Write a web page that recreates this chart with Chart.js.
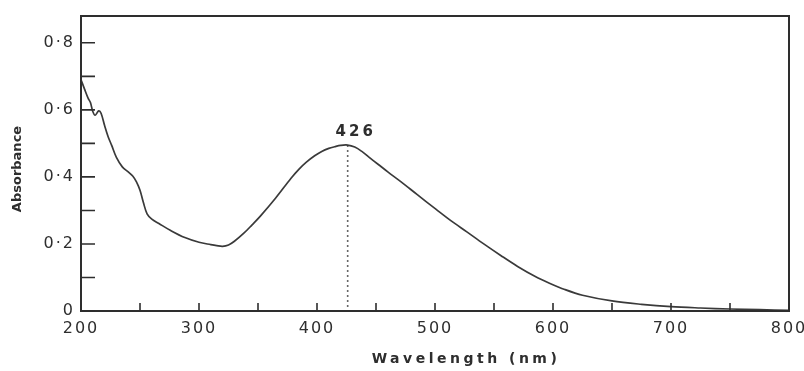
<!DOCTYPE html>
<html><head><meta charset="utf-8">
<script src="https://cdn.jsdelivr.net/npm/chart.js@4"></script>
<style>html,body{margin:0;padding:0;background:#fff}#wrap{width:804px;height:371px}</style>
</head><body><div id="wrap"><canvas id="c" width="804" height="371"></canvas></div>
<script>
const wavelengths = [200,203,206,208,210,212,215,217,220,223,226,230,235,240,244,247,250,253,256,260,266,276,288,300,310,315,320,325,330,338,345,352,365,378,385,391,398,404,410,415,420,426,432,438,444,452,460,471,485,501,514,527,541,556,570,585,597,610,625,650,675,700,725,750,775,800];
const absorbance = [0.690,0.662,0.635,0.622,0.595,0.584,0.597,0.590,0.553,0.520,0.494,0.458,0.430,0.415,0.402,0.385,0.360,0.322,0.290,0.274,0.261,0.240,0.219,0.205,0.198,0.195,0.193,0.197,0.208,0.232,0.257,0.283,0.337,0.396,0.424,0.444,0.463,0.476,0.485,0.490,0.494,0.495,0.489,0.476,0.459,0.437,0.415,0.386,0.347,0.303,0.268,0.236,0.201,0.165,0.133,0.103,0.083,0.064,0.047,0.030,0.020,0.013,0.009,0.006,0.004,0.002];
const peakWavelength = 426;
const peakAbsorbance = 0.495;
const peakLabel = '426';
const xTickValues = [200,300,400,500,600,700,800];
const xTickLabels = ['200','300','400','500','600','700','800'];
const yTickValues = [0,0.2,0.4,0.6,0.8];
const yTickLabels = ['0','0·2','0·4','0·6','0·8'];
const xTitle = 'Wavelength (nm)';
const yTitle = 'Absorbance';

const INK = '#2e2e2e';

const decor = {
  id: 'decor',
  beforeDraw(chart) {
    const ctx = chart.ctx;
    ctx.save();
    ctx.fillStyle = '#fff';
    ctx.fillRect(0, 0, chart.width, chart.height);
    ctx.restore();
    ctx.letterSpacing = '2px';
  },
  afterDatasetsDraw(chart) {
    const {ctx, chartArea: a, scales: {x, y}} = chart;
    ctx.save();
    ctx.strokeStyle = INK;
    ctx.lineWidth = 2;
    ctx.strokeRect(a.left, a.top, a.right - a.left, a.bottom - a.top);
    ctx.lineWidth = 1.6;
    ctx.beginPath();
    x.ticks.forEach(t => {
      const px = x.getPixelForValue(t.value);
      ctx.moveTo(px, a.bottom); ctx.lineTo(px, a.bottom - 8);
    });
    y.ticks.forEach(t => {
      const py = y.getPixelForValue(t.value);
      ctx.moveTo(a.left, py); ctx.lineTo(a.left + 14, py);
    });
    ctx.stroke();
    ctx.fillStyle = INK;
    ctx.textAlign = 'center';
    ctx.textBaseline = 'middle';
    ctx.font = 'bold 15px "DejaVu Sans"';
    ctx.letterSpacing = '3px';
    ctx.fillText(peakLabel, x.getPixelForValue(peakWavelength) + 8, y.getPixelForValue(peakAbsorbance) - 13);
    ctx.font = 'bold 14px "DejaVu Sans"';
    ctx.letterSpacing = '3.5px';
    ctx.fillText(xTitle, 466, 359);
    ctx.translate(18, 169);
    ctx.rotate(-Math.PI / 2);
    ctx.font = 'bold 13px "DejaVu Sans"';
    ctx.letterSpacing = '0px';
    ctx.fillText(yTitle, 0, 0);
    ctx.restore();
  }
};

new Chart(document.getElementById('c'), {
  type: 'line',
  data: {
    datasets: [
      {
        data: wavelengths.map((w, i) => ({x: w, y: absorbance[i]})),
        borderColor: '#3a3a3a',
        borderWidth: 1.7,
        pointRadius: 0,
        tension: 0.35,
        fill: false
      },
      {
        data: [{x: peakWavelength, y: peakAbsorbance}, {x: peakWavelength, y: 0}],
        borderColor: '#666',
        borderWidth: 1.6,
        borderDash: [2, 3],
        pointRadius: 0,
        tension: 0,
        fill: false
      }
    ]
  },
  options: {
    responsive: false,
    animation: false,
    devicePixelRatio: 1,
    layout: {padding: {left: 0, right: 15, top: 16, bottom: 0}},
    plugins: {legend: {display: false}, tooltip: {enabled: false}},
    scales: {
      x: {
        type: 'linear', min: 200, max: 800,
        grid: {display: false, drawTicks: false},
        border: {display: false},
        ticks: {
          stepSize: 50, autoSkip: false, includeBounds: false, maxRotation: 0, padding: 8,
          color: INK, font: {family: 'DejaVu Sans', size: 16},
          callback: (v) => { const i = xTickValues.indexOf(Math.round(v)); return i >= 0 ? xTickLabels[i] : ''; }
        },
        afterFit: (s) => { s.height = 60; s.paddingLeft = 0; s.paddingRight = 0; }
      },
      y: {
        type: 'linear', min: 0, max: 0.88,
        grid: {display: false, drawTicks: false},
        border: {display: false},
        ticks: {
          stepSize: 0.1, autoSkip: false, includeBounds: false, padding: 6,
          color: INK, font: {family: 'DejaVu Sans', size: 16},
          callback: (v) => { const r = Math.round(v * 10) / 10; const i = yTickValues.findIndex(t => Math.abs(t - r) < 1e-9); return i >= 0 ? yTickLabels[i] : ''; }
        },
        afterFit: (s) => { s.width = 81; s.paddingTop = 0; s.paddingBottom = 0; }
      }
    }
  },
  plugins: [decor]
});
</script>
</body></html>
